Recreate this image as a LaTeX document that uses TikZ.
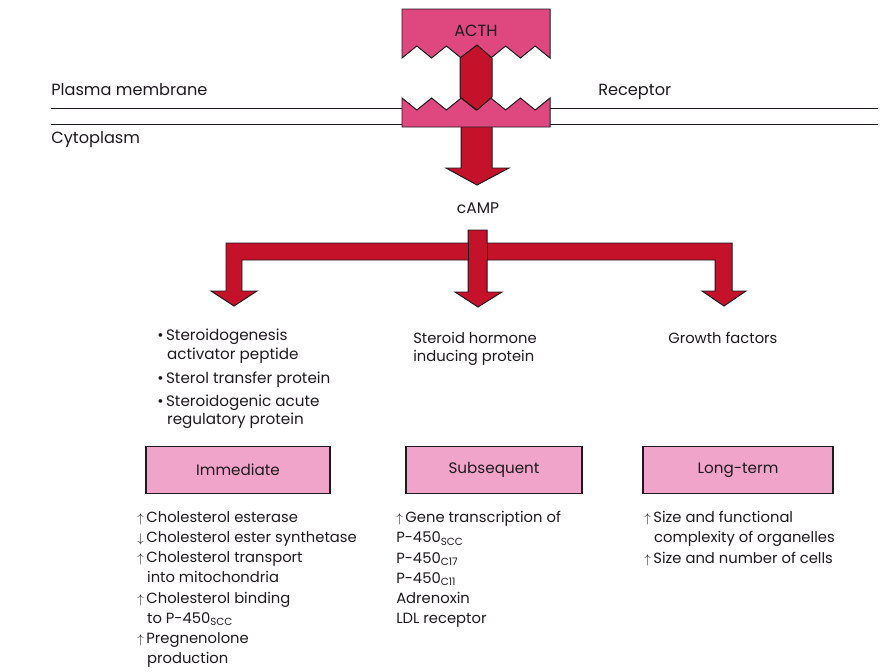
\documentclass[tikz,border=0pt]{standalone}
\usepackage{fontspec}
\setmainfont{Poppins}
\usetikzlibrary{positioning}

\definecolor{acthpink}{RGB}{222,72,126}
\definecolor{boxpink}{RGB}{241,164,202}
\definecolor{arrowred}{RGB}{196,18,42}
\definecolor{inkgray}{RGB}{30,25,30}

\newcommand{\incr}{\makebox[6.5pt][l]{\small$\uparrow$}}
\newcommand{\decr}{\makebox[6.5pt][l]{\small$\downarrow$}}
\newcommand{\hang}{\hspace*{7pt}}

\begin{document}
\begin{tikzpicture}[
    x=0.025cm, y=-0.025cm,
    lbl/.style={font=\fontsize{11.5}{13}\selectfont, inner sep=0pt, text=inkgray},
    lst/.style={inner sep=0pt, text=inkgray, align=left, anchor=north west, font=\fontsize{10.5}{14.4}\selectfont},
    phase/.style={draw=inkgray, line width=0.8pt, fill=boxpink, minimum height=1.175cm, inner sep=0pt, text=inkgray, font=\fontsize{10.8}{12}\selectfont},
    pinkpart/.style={draw=inkgray, line width=0.7pt, fill=acthpink, line join=miter},
    bigarrow/.style={draw=inkgray, line width=0.7pt, fill=arrowred, line join=miter},
    membrane/.style={draw=inkgray, line width=0.6pt}
  ]
    \useasboundingbox (0,0) rectangle (892,671);

    % Membrane
    \draw[membrane] (51,108) -- (402,108) (51,124) -- (402,124);
    \draw[membrane] (550,108) -- (878,108) (550,124) -- (878,124);
    \node[lbl, anchor=west] (plasma) at (51,90) {Plasma membrane};
    \node[lbl, anchor=west] (cyto) at (51,140) {Cytoplasm};
    \node[lbl, anchor=west] (recept) at (598,92) {Receptor};

    % ACTH
    \draw[pinkpart] (402,9) -- (550,9)
      \foreach \k in {10,...,0} { -- ({402+14.8*\k},{52+6*cos(180*\k)}) } -- cycle;
    \node[lbl] (acth) at (476,31) {ACTH};

    % Arrow to cAMP
    \draw[bigarrow] (461,120) -- (492,120) -- (492,168) -- (509,168) -- (477,185)
      -- (446,168) -- (461,168) -- cycle;

    % Receptor
    \draw[pinkpart] (402,127) -- (550,127)
      \foreach \k in {10,...,0} { -- ({402+14.8*\k},{104-6*cos(180*\k)}) } -- cycle;
    \draw[bigarrow] (477,45) -- (492,58) -- (492,97) -- (477,110) -- (460,97)
      -- (460,58) -- cycle;

    \node[lbl, font=\fontsize{11}{13}\selectfont] (camp) at (478,208) {cAMP};

    % Branching arrow
    \draw[bigarrow] (468,230) -- (487,230) -- (487,243) -- (732,243) -- (732,291)
      -- (746,291) -- (724,306) -- (702,291) -- (715,291) -- (715,260) -- (487,260)
      -- (487,292) -- (502,292) -- (478,307) -- (455,292) -- (468,292) -- (468,260)
      -- (242,260) -- (242,291) -- (257,291) -- (234,306) -- (211,291) -- (226,291)
      -- (226,243) -- (468,243) -- cycle;
    \draw[inkgray, line width=0.7pt] (468,243) -- (468,260) (487,243) -- (487,260);

    % Mediators
    \node[lst, font=\fontsize{10.8}{13}\selectfont] (media) at (157,329)
      {\textbullet\,Steroidogenesis\\
       \hspace*{7pt}activator peptide\\[4.5pt]
       \textbullet\,Sterol transfer protein\\[3pt]
       \textbullet\,Steroidogenic acute\\
       \hspace*{7pt}regulatory protein};
    \node[lst, font=\fontsize{10.5}{12.5}\selectfont] (ship) at (413,332)
      {Steroid hormone\\inducing protein};
    \node[lst] (growth) at (668,332) {Growth factors};

    % Phases
    \node[phase, minimum width=4.6cm] (imm) at (238,470) {Immediate};
    \node[phase, minimum width=4.4cm] (subs) at (494,470) {Subsequent};
    \node[phase, minimum width=4.75cm] (longt) at (738,470) {Long-term};

    % Effects
    \node[lst] (immlist) at (137,511)
      {\incr Cholesterol esterase\\
       \decr Cholesterol ester synthetase\\
       \incr Cholesterol transport\\
       \hang into mitochondria\\
       \incr Cholesterol binding\\
       \hang to P-450\textsubscript{SCC}\\
       \incr Pregnenolone\\
       \hang production};
    \node[lst] (subslist) at (396,511)
      {\incr Gene transcription of\\
       P-450\textsubscript{SCC}\\
       P-450\textsubscript{C17}\\
       P-450\textsubscript{C11}\\
       Adrenoxin\\
       LDL receptor};
    \node[lst] (longlist) at (644,511)
      {\incr Size and functional\\
       \hang complexity of organelles\\
       \incr Size and number of cells};
  \end{tikzpicture}
\end{document}
